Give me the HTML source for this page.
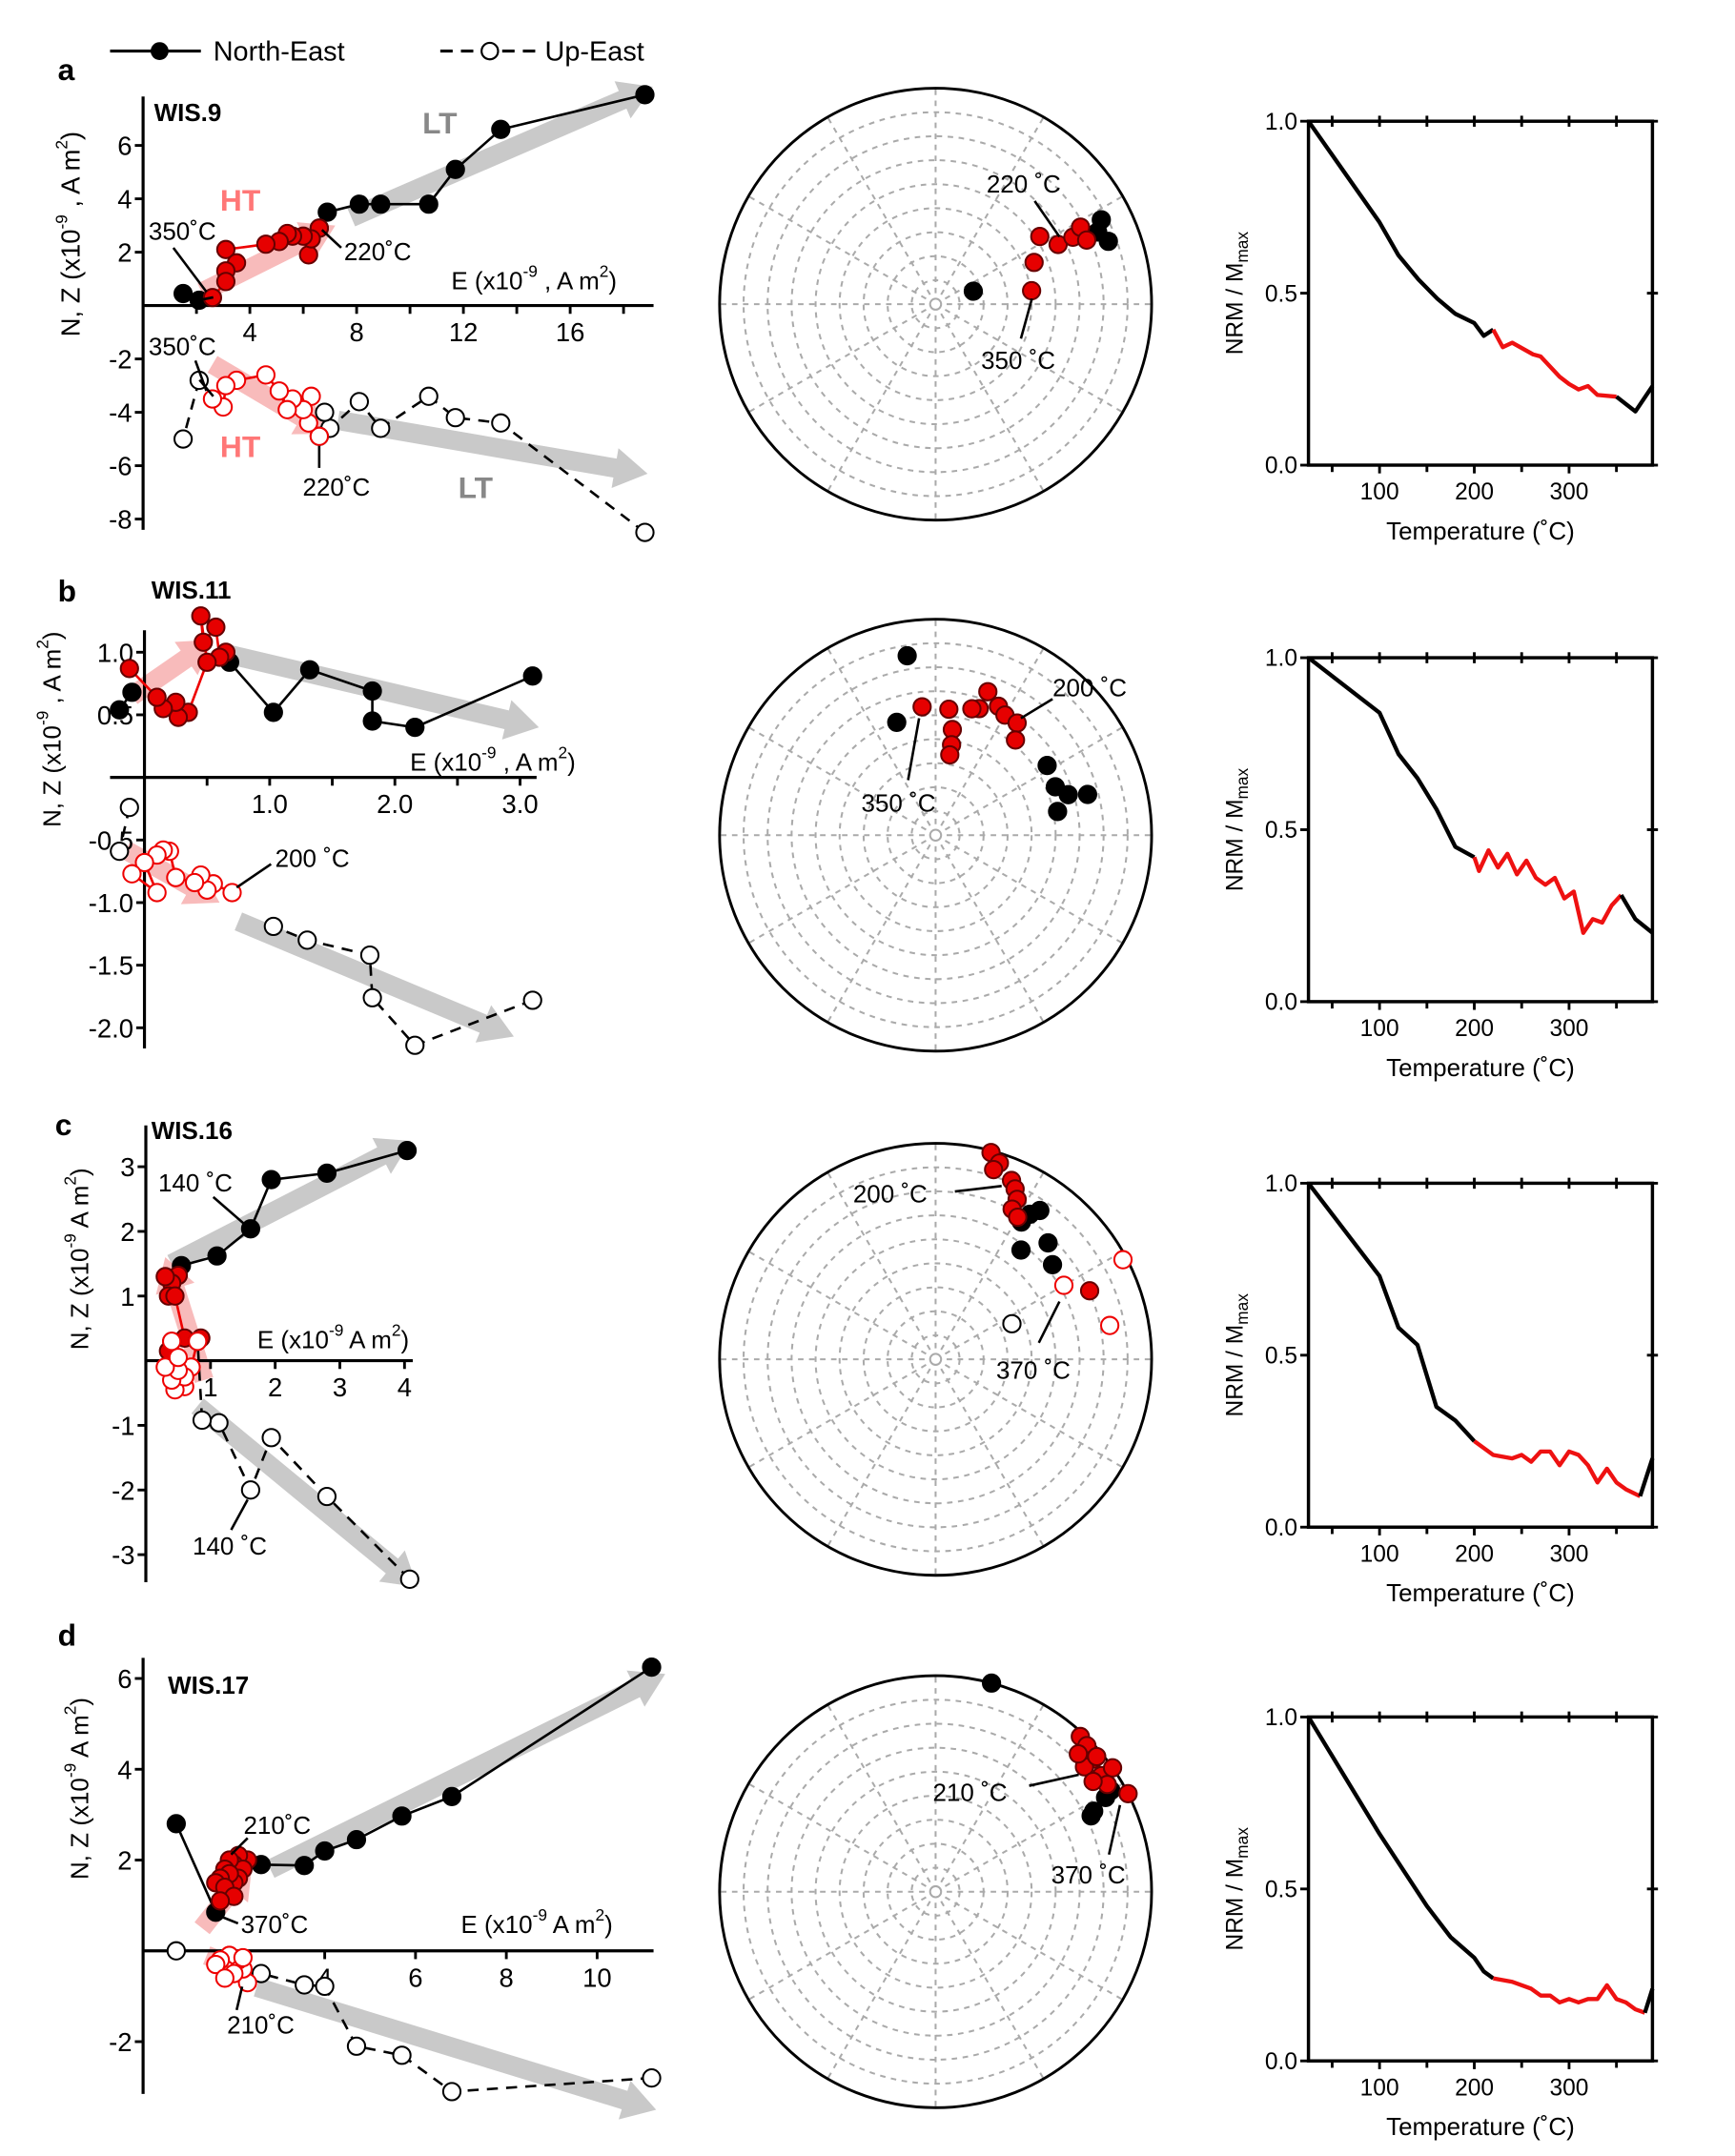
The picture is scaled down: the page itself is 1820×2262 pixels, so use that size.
<!DOCTYPE html>
<html><head><meta charset="utf-8"><style>
html,body{margin:0;padding:0;background:#fff}
svg{display:block}
text{font-family:"Liberation Sans",Arial,sans-serif}
</style></head><body>
<svg id="fig" xmlns="http://www.w3.org/2000/svg" width="1820" height="2262" viewBox="0 0 1261 1567">
<g>
<line x1="80" y1="37" x2="146" y2="37" stroke="#000" stroke-width="2.2"/>
<circle cx="116" cy="37" r="6.5" fill="#000"/>
<text x="155" y="44" font-size="20">North-East</text>
<line x1="320" y1="37" x2="392" y2="37" stroke="#000" stroke-width="2.2" stroke-dasharray="9,6"/>
<circle cx="356" cy="37" r="6" fill="#fff" stroke="#000" stroke-width="1.5"/>
<text x="396" y="44" font-size="20">Up-East</text>
</g>
<g id="root"></g>
</svg>
<script>
// ---------- Zijderveld data (E, N) and (E, Z) ----------
const aNE_E=[18.8,13.4,11.7,10.7,8.9,8.1,6.9];
const aNE_N=[7.9,6.6,5.1,3.8,3.8,3.8,3.5];
const aNE_E2=[1.5,2.1];
const aNE_N2=[0.45,0.2];
const aHTNE_E=[6.6,6.2,6.3,6.0,5.6,5.4,5.1,4.6,3.1,3.5,3.1,3.1,2.6];
const aHTNE_N=[2.9,1.9,2.5,2.6,2.6,2.7,2.4,2.3,2.1,1.6,1.3,0.9,0.3];
const aUE_E=[18.8,13.4,11.7,10.7,8.9,8.1,7.0,6.8];
const aUE_Z=[-8.5,-4.4,-4.2,-3.4,-4.6,-3.6,-4.6,-4.0];
const aUE_E2=[2.1,1.5];
const aUE_Z2=[-2.8,-5.0];
const aHTUE_E=[6.6,6.2,6.3,6.0,5.6,5.4,5.1,4.6,3.5,3.1,3.0,2.6];
const aHTUE_Z=[-4.9,-4.4,-3.4,-3.9,-3.5,-3.9,-3.2,-2.6,-2.8,-3.0,-3.8,-3.5];

const bNE_E=[3.1,2.16,1.82,1.82,1.32,1.03,0.68];
const bNE_N=[0.81,0.40,0.45,0.69,0.86,0.52,0.92];
const bNE_E2=[-0.1,-0.2];
const bNE_N2=[0.68,0.54];
const bHTNE_E=[0.65,0.6,0.57,0.47,0.45,0.5,0.35,0.27,0.25,0.15,0.1,-0.12];
const bHTNE_N=[1.0,0.96,1.2,1.08,1.29,0.92,0.52,0.48,0.6,0.55,0.64,0.87];
const bUE_E=[3.1,2.16,1.82,1.8,1.3,1.03];
const bUE_Z=[-1.78,-2.14,-1.76,-1.42,-1.3,-1.19];
const bUE_E2=[-0.12,-0.2];
const bUE_Z2=[-0.24,-0.59];
const bHTUE_E=[0.7,0.55,0.5,0.45,0.4,0.25,0.2,0.15,0.1,0.0,0.1,-0.1];
const bHTUE_Z=[-0.92,-0.85,-0.9,-0.78,-0.84,-0.8,-0.59,-0.58,-0.62,-0.68,-0.92,-0.77];

const cNE_E=[4.04,2.8,1.94,1.62,1.1,0.55];
const cNE_N=[3.25,2.9,2.8,2.04,1.62,1.47];
const cHTNE_E=[0.5,0.4,0.3,0.35,0.45,0.6,0.85,0.4,0.35];
const cHTNE_N=[1.32,1.2,1.3,1.0,1.0,0.35,0.35,0.3,0.15];
const cUE_E=[4.08,2.8,1.94,1.62,1.13,0.87];
const cUE_Z=[-3.38,-2.1,-1.19,-2.0,-0.96,-0.92];
const cHTUE_E=[0.8,0.7,0.6,0.45,0.6,0.4,0.5,0.3,0.5,0.4];
const cHTUE_Z=[0.3,-0.1,-0.4,-0.45,-0.25,-0.3,-0.15,-0.1,0.05,0.3];

const dNE_E=[11.2,6.8,5.7,4.7,4.0,3.55,2.6];
const dNE_N=[6.25,3.4,2.97,2.45,2.2,1.88,1.9];
const dNE_E2=[1.6,0.73];
const dNE_N2=[0.85,2.8];
const dHTNE_E=[2.3,2.1,2.0,2.2,1.9,2.1,1.8,2.0,1.9,1.7,1.6,1.8,2.0,1.7];
const dHTNE_N=[2.0,2.1,1.9,1.8,2.0,1.6,1.8,1.5,1.7,1.6,1.5,1.4,1.2,1.1];
const dUE_E=[11.2,6.8,5.7,4.7,4.0,3.55,2.6];
const dUE_Z=[-2.8,-3.1,-2.3,-2.1,-0.78,-0.75,-0.5];
const dUE_E2=[0.73];
const dUE_Z2=[0.0];
const dHTUE_E=[2.3,2.2,2.1,2.0,1.9,1.8,1.7,1.6,2.0,2.2,1.8];
const dHTUE_Z=[-0.7,-0.4,-0.2,-0.3,-0.1,-0.4,-0.2,-0.3,-0.5,-0.15,-0.6];

// ---------- Stereonet data (declination, inclination) ----------
const aBlkDec=[71,63,70,66];
const aBlkInc=[75,15,16,19];
const aRedDec=[82,67,57,64,64,62,67];
const aRedInc=[53,49,42,37,30,25,25];
const bBlkDec=[351,341,58,68,73,75,79];
const bBlkInc=[17,44,39,40,36,28,42];
const bRedDec=[354,6,9,10,10,19,20,26,30,36,40,16];
const bRedInc=[40,41,49,55,59,38,30,34,36,36,42,39];
const cRedDec=[15,18,17,23,25,27,27,30,66];
const cRedInc=[1,5,9,11,14,18,23,25,23];
const cBlkDec=[32,33,35,38,44,51];
const cBlkInc=[26,21,17,36,26,31];
const cOpenRedDec=[60,62,79];
const cOpenRedInc=[-32,-2,-19];
const cOpenBlkDec=[65];
const cOpenBlkInc=[-58];
const dBlkDec=[15,61,63,64,60];
const dBlkInc=[0,11,19,21,7];
const dRedDec=[43,46,50,50,55,58,55,55,46,63,50];
const dRedInc=[2,3,5,11,7,7,12,0,9,0,3];

// ---------- Thermal demagnetisation curves ----------
const aT=[25,100,120,141,161,180,200,210,220,230,240,262,270,290,300,310,320,330,350,370,388];
const aM=[1.0,0.706,0.61,0.54,0.484,0.44,0.413,0.376,0.394,0.343,0.356,0.322,0.316,0.257,0.236,0.22,0.23,0.204,0.199,0.156,0.23];
const aRed=[220,350];
const bT=[25,100,120,140,160,180,200,205,215,225,235,245,255,265,275,285,295,305,315,325,335,345,355,370,388];
const bM=[1.0,0.84,0.72,0.65,0.56,0.45,0.42,0.38,0.44,0.39,0.43,0.37,0.41,0.36,0.34,0.36,0.30,0.32,0.20,0.24,0.23,0.28,0.31,0.24,0.20];
const bRed=[200,355];
const cT=[25,100,120,140,160,180,200,220,240,250,260,270,280,290,300,310,320,330,340,350,360,375,388];
const cM=[1.0,0.73,0.58,0.53,0.35,0.31,0.25,0.21,0.20,0.21,0.19,0.22,0.22,0.18,0.22,0.21,0.18,0.13,0.17,0.13,0.11,0.09,0.20];
const cRed=[200,375];
const dT=[25,100,150,175,200,210,220,240,260,270,280,290,300,310,320,330,340,350,360,370,380,388];
const dM=[1.0,0.66,0.45,0.36,0.30,0.26,0.24,0.23,0.21,0.19,0.19,0.17,0.18,0.17,0.18,0.18,0.22,0.18,0.17,0.15,0.14,0.21];
const dRed=[220,380];

const NS="http://www.w3.org/2000/svg";
const root=document.getElementById('root');
function el(tag,attrs,parent){const e=document.createElementNS(NS,tag);for(const k in attrs)e.setAttribute(k,attrs[k]);(parent||root).appendChild(e);return e;}
function txt(x,y,s,size,parent,extra){const t=el('text',Object.assign({x:x,y:y,'font-size':size},extra||{}),parent);t.innerHTML=s;return t;}

function arrowPoly(g,x1,y1,x2,y2,color,w,name){
  const dx=x2-x1,dy=y2-y1,L=Math.hypot(dx,dy),ux=dx/L,uy=dy/L,px=-uy,py=ux;
  const hl=Math.min(24,L*0.4),hw=w*1.05;
  const bx=x2-ux*hl,by=y2-uy*hl;
  const pts=[[x1+px*w/2,y1+py*w/2],[bx+px*w/2,by+py*w/2],[bx+px*hw,by+py*hw],[x2,y2],[bx-px*hw,by-py*hw],[bx-px*w/2,by-py*w/2],[x1-px*w/2,y1-py*w/2]];
  const p=el('polygon',{points:pts.map(q=>q.join(',')).join(' '),fill:color},g);
  
  
}

function zij(cfg){
  const g=el('g',{});
  
  
  const X=v=>cfg.x0+v*cfg.s, Y=v=>cfg.y0-v*cfg.s;
  cfg.arrows.forEach(a=>arrowPoly(g,X(a[0]),Y(a[1]),X(a[2]),Y(a[3]),a[4],14,a[5]));
  const va=el('line',{x1:cfg.x0,y1:cfg.yTop,x2:cfg.x0,y2:cfg.yBot,stroke:'#000','stroke-width':2.2},g);
  
  
  const ha=el('line',{x1:cfg.xL,y1:cfg.y0,x2:cfg.xR,y2:cfg.y0,stroke:'#000','stroke-width':2.2},g);
  
  
  cfg.xTicks.forEach((t,i)=>{el('line',{x1:X(t),y1:cfg.y0,x2:X(t),y2:cfg.y0+6,stroke:'#000','stroke-width':2},g);});
  cfg.xLabels.forEach((t,i)=>{const tt=txt(X(t),cfg.y0+26,cfg.xLabelText[i],19,g,{'text-anchor':'middle'});});
  cfg.yTicks.forEach(t=>{el('line',{x1:cfg.x0-6,y1:Y(t),x2:cfg.x0,y2:Y(t),stroke:'#000','stroke-width':2},g);});
  cfg.yLabels.forEach((t,i)=>{const tt=txt(cfg.x0-8,Y(t)+7,cfg.yLabelText[i],19,g,{'text-anchor':'end'});});
  function line(E,V,col,dash){const pts=E.map((e,i)=>X(e)+','+Y(V[i])).join(' ');const p=el('polyline',{points:pts,fill:'none',stroke:col,'stroke-width':1.8},g);if(dash)p.setAttribute('stroke-dasharray','8,6');return p;}
  function pts(E,V,fill,stroke,name){E.forEach((e,i)=>{const c=el('circle',{cx:X(e),cy:Y(V[i]),r:6.3,fill:fill,stroke:stroke,'stroke-width':1.4},g);});}
  cfg.series.forEach(s=>{ if(s.link){line(s.E,s.V,s.lc,s.dash);} });
  cfg.series.forEach(s=>pts(s.E,s.V,s.fill,s.stroke,s.name));
  return {g,X,Y};
}

function stereo(cx,cy,R,groups,name){
  const g=el('g',{});
  
  
  for(let k=1;k<=8;k++)el('circle',{cx:cx,cy:cy,r:R*k/9,fill:'none',stroke:'#aaa','stroke-width':1.4,'stroke-dasharray':'4,4'},g);
  el('circle',{cx:cx,cy:cy,r:4,fill:'none',stroke:'#aaa','stroke-width':1.4},g);
  for(let a=0;a<360;a+=30){const r=a*Math.PI/180;el('line',{x1:cx+8*Math.sin(r),y1:cy-8*Math.cos(r),x2:cx+R*Math.sin(r),y2:cy-R*Math.cos(r),stroke:'#aaa','stroke-width':1.4,'stroke-dasharray':'4,4'},g);}
  const oc=el('circle',{cx:cx,cy:cy,r:R,fill:'none',stroke:'#000','stroke-width':2},g);
  
  
  groups.forEach(gr=>{
    gr.dec.forEach((d,i)=>{
      const inc=gr.inc[i];
      const r=R*Math.SQRT2*Math.sin((90-Math.abs(inc))/2*Math.PI/180);
      const c=el('circle',{cx:cx+r*Math.sin(d*Math.PI/180),cy:cy-r*Math.cos(d*Math.PI/180),r:6.3,fill:gr.fill,stroke:gr.stroke,'stroke-width':1.4},g);
      
      
    });
  });
  return g;
}

function thermal(T,M,red,top,name){
  const g=el('g',{});
  
  
  const L=951,Rr=1201,B=top+250;
  const X=t=>L+(t-25)*(Rr-L)/(388-25), Y=m=>B-m*250;
  el('rect',{x:L,y:top,width:Rr-L,height:250,fill:'none',stroke:'#000','stroke-width':2.4},g);
  [50,100,150,200,250,300,350].forEach(t=>{const big=t%100==0;el('line',{x1:X(t),y1:B,x2:X(t),y2:B+(big?6:5),stroke:'#000','stroke-width':2},g);el('line',{x1:X(t),y1:top-4,x2:X(t),y2:top+4,stroke:'#000','stroke-width':2},g);});
  [0,0.5,1].forEach(m=>{el('line',{x1:L-6,y1:Y(m),x2:L,y2:Y(m),stroke:'#000','stroke-width':2},g);el('line',{x1:Rr-4,y1:Y(m),x2:Rr+4,y2:Y(m),stroke:'#000','stroke-width':2},g);});
  ['0.0','0.5','1.0'].forEach((s,i)=>{const t=txt(L-8,Y(i*0.5)+6,s,17,g,{'text-anchor':'end'});});
  [100,200,300].forEach(t=>{const tt=txt(X(t),B+25,String(t),17,g,{'text-anchor':'middle'});});
  const xl=txt(1076,B+54,'Temperature (˚C)',18,g,{'text-anchor':'middle'});
  
  const yl=txt(0,0,'NRM / M<tspan font-size="12" dy="4">max</tspan>',17,g,{'text-anchor':'middle',transform:'translate(903,'+(top+125)+') rotate(-90)'});
  
  const seg=(filter,col,nm)=>{const idx=T.map((t,i)=>i).filter(i=>filter(T[i]));const p=el('polyline',{points:idx.map(i=>X(T[i])+','+Y(M[i])).join(' '),fill:'none',stroke:col,'stroke-width':3,'stroke-linejoin':'round'},g);};
  seg(t=>t<=red[0],'#000','curve-low');
  seg(t=>t>=red[0]&&t<=red[1],'#ee1111','curve-red');
  seg(t=>t>=red[1],'#000','curve-high');
}

function label(x,y,s,size,name,extra){const t=txt(x,y,s,size,root,extra);return t;}
function leader(x1,y1,x2,y2){const l=el('line',{x1:x1,y1:y1,x2:x2,y2:y2,stroke:'#000','stroke-width':1.8});}
const GREY='#c9c9c9',PINK='rgba(245,150,150,0.65)';
const RF='#e60000';
function S(E,V,fill,stroke,lc,dash,name){return {E:E,V:V,fill:fill,stroke:stroke,lc:lc,dash:dash,link:true,name:name};}

// ---------- Panel a ----------
zij({name:'zijderveld-a',x0:104,y0:222,s:19.4,yTop:70,yBot:385,xL:104,xR:475,
  xTicks:[2,4,6,8,10,12,14,16,18],xLabels:[4,8,12,16],xLabelText:['4','8','12','16'],
  yTicks:[6,4,2,-2,-4,-6,-8],yLabels:[6,4,2,-2,-4,-6,-8],yLabelText:['6','4','2','-2','-4','-6','-8'],
  arrows:[[7.8,3.3,19.1,8.2,GREY,'lt-arrow-ne'],[2.2,0.5,7.2,3.0,PINK,'ht-arrow-ne'],[7.3,-4.3,18.9,-6.3,GREY,'lt-arrow-ue'],[2.6,-2.2,7.0,-4.8,PINK,'ht-arrow-ue']],
  series:[S(aNE_E.concat([6.6]),aNE_N.concat([2.9]),'#000','#000','#000',false,'ne-point'),S(aNE_E2,aNE_N2,'#000','#000','#000',false,'ne-point'),
    S(aHTNE_E,aHTNE_N,RF,'#600','#e00',false,'ne-ht-point'),
    S(aUE_E.concat([6.6]),aUE_Z.concat([-4.9]),'#fff','#000','#000',true,'ue-point'),S(aUE_E2,aUE_Z2,'#fff','#000','#000',true,'ue-point'),
    S(aHTUE_E,aHTUE_Z,'#fff','#e00','#e00',false,'ue-ht-point')]});
leader(145,218,155,216);leader(145,276,155,288);
label(42,58,'a',22,'panel-label-a',{'font-weight':'bold'});
label(112,88,'WIS.9',18,'sample-title-a',{'font-weight':'bold'});
label(307,97,'LT',22,'lt-label',{'font-weight':'bold',style:'fill:#888'});
label(160,153,'HT',22,'ht-label',{'font-weight':'bold',style:'fill:#f77'});
label(160,332,'HT',22,'ht-label',{'font-weight':'bold',style:'fill:#f77'});
label(333,362,'LT',22,'lt-label',{'font-weight':'bold',style:'fill:#888'});
label(108,174,'350˚C',18,'temp-label');leader(126,180,150,212);
label(250,189,'220˚C',18,'temp-label');leader(248,180,234,167);
label(108,258,'350˚C',18,'temp-label');leader(142,262,150,284);
label(220,360,'220˚C',18,'temp-label');leader(232,340,232,324);
label(328,210,'E (x10<tspan font-size="12" dy="-9">-9</tspan><tspan dy="9"> , A m</tspan><tspan font-size="12" dy="-9">2</tspan><tspan dy="9">)</tspan>',18,'x-axis-title');
label(0,0,'N, Z (x10<tspan font-size="12" dy="-9">-9</tspan><tspan dy="9"> , A m</tspan><tspan font-size="12" dy="-9">2</tspan><tspan dy="9">)</tspan>',19,'y-axis-title',{'text-anchor':'middle',transform:'translate(58,170) rotate(-90)'});

// ---------- Panel b ----------
zij({name:'zijderveld-b',x0:105,y0:565,s:91,yTop:458,yBot:762,xL:80,xR:390,
  xTicks:[0.5,1,1.5,2,2.5,3],xLabels:[1,2,3],xLabelText:['1.0','2.0','3.0'],
  yTicks:[1,0.5,-0.5,-1,-1.5,-2],yLabels:[1,0.5,-0.5,-1,-1.5,-2],yLabelText:['1.0','0.5','-0.5','-1.0','-1.5','-2.0'],
  arrows:[[0.6,1.0,3.15,0.4,GREY,'lt-arrow-ne'],[-0.1,0.65,0.55,1.1,PINK,'ht-arrow-ne'],[0.75,-1.15,2.95,-2.07,GREY,'lt-arrow-ue'],[-0.15,-0.58,0.6,-1.0,PINK,'ht-arrow-ue']],
  series:[S(bNE_E,bNE_N,'#000','#000','#000',false,'ne-point'),S(bNE_E2,bNE_N2,'#000','#000','#000',false,'ne-point'),
    S(bHTNE_E,bHTNE_N,RF,'#600','#e00',false,'ne-ht-point'),
    S(bUE_E,bUE_Z,'#fff','#000','#000',true,'ue-point'),S(bUE_E2,bUE_Z2,'#fff','#000','#000',true,'ue-point'),
    S(bHTUE_E,bHTUE_Z,'#fff','#e00','#e00',false,'ue-ht-point')]});
label(42,437,'b',22,'panel-label-b',{'font-weight':'bold'});
label(110,435,'WIS.11',18,'sample-title-b',{'font-weight':'bold'});
label(200,630,'200 ˚C',18,'temp-label');leader(197,628,172,645);
label(298,560,'E (x10<tspan font-size="12" dy="-9">-9</tspan><tspan dy="9"> , A m</tspan><tspan font-size="12" dy="-9">2</tspan><tspan dy="9">)</tspan>',18,'x-axis-title');
label(0,0,'N, Z (x10<tspan font-size="12" dy="-9">-9</tspan><tspan dy="9"> , A m</tspan><tspan font-size="12" dy="-9">2</tspan><tspan dy="9">)</tspan>',18,'y-axis-title',{'text-anchor':'middle',transform:'translate(44,530) rotate(-90)'});

// ---------- Panel c ----------
zij({name:'zijderveld-c',x0:106,y0:989,s:47,yTop:818,yBot:1150,xL:106,xR:300,
  xTicks:[1,2,3,4],xLabels:[1,2,3,4],xLabelText:['1','2','3','4'],
  yTicks:[3,2,1,-1,-2,-3],yLabels:[3,2,1,-1,-2,-3],yLabelText:['3','2','1','-1','-2','-3'],
  arrows:[[0.4,1.5,4.1,3.4,GREY,'lt-arrow-ne'],[0.9,-0.3,0.3,1.6,PINK,'ht-arrow-ne'],[0.8,-0.7,4.2,-3.5,GREY,'lt-arrow-ue']],
  series:[S(cNE_E.concat([0.5]),cNE_N.concat([1.32]),'#000','#000','#000',false,'ne-point'),
    S(cHTNE_E,cHTNE_N,RF,'#600','#e00',false,'ne-ht-point'),
    S(cUE_E.concat([0.8]),cUE_Z.concat([0.3]),'#fff','#000','#000',true,'ue-point'),
    S(cHTUE_E,cHTUE_Z,'#fff','#e00','#e00',false,'ue-ht-point')]});
label(40,825,'c',22,'panel-label-c',{'font-weight':'bold'});
label(110,828,'WIS.16',18,'sample-title-c',{'font-weight':'bold'});
label(115,866,'140 ˚C',18,'temp-label');leader(155,870,178,890);
label(140,1130,'140 ˚C',18,'temp-label');leader(168,1112,180,1090);
label(187,980,'E (x10<tspan font-size="12" dy="-9">-9</tspan><tspan dy="9">  A m</tspan><tspan font-size="12" dy="-9">2</tspan><tspan dy="9">)</tspan>',18,'x-axis-title');
label(0,0,'N, Z (x10<tspan font-size="12" dy="-9">-9</tspan><tspan dy="9">  A m</tspan><tspan font-size="12" dy="-9">2</tspan><tspan dy="9">)</tspan>',18,'y-axis-title',{'text-anchor':'middle',transform:'translate(64,915) rotate(-90)'});

// ---------- Panel d ----------
zij({name:'zijderveld-d',x0:104,y0:1418,s:33,yTop:1205,yBot:1522,xL:104,xR:475,
  xTicks:[2,4,6,8,10],xLabels:[4,6,8,10],xLabelText:['4','6','8','10'],
  yTicks:[6,4,2,-2],yLabels:[6,4,2,-2],yLabelText:['6','4','2','-2'],
  arrows:[[2.8,1.8,11.5,6.1,GREY,'lt-arrow-ne'],[1.3,0.5,2.4,1.9,PINK,'ht-arrow-ne'],[2.5,-0.8,11.3,-3.5,GREY,'lt-arrow-ue'],[1.4,-0.1,2.4,-0.5,PINK,'ht-arrow-ue']],
  series:[S(dNE_E,dNE_N,'#000','#000','#000',false,'ne-point'),S(dNE_E2,dNE_N2,'#000','#000','#000',false,'ne-point'),
    S(dHTNE_E,dHTNE_N,RF,'#600','#e00',false,'ne-ht-point'),
    S(dUE_E,dUE_Z,'#fff','#000','#000',true,'ue-point'),S(dUE_E2,dUE_Z2,'#fff','#000','#000',true,'ue-point'),
    S(dHTUE_E,dHTUE_Z,'#fff','#e00','#e00',false,'ue-ht-point')]});
label(42,1196,'d',22,'panel-label-d',{'font-weight':'bold'});
label(122,1231,'WIS.17',18,'sample-title-d',{'font-weight':'bold'});
label(177,1333,'210˚C',18,'temp-label');leader(180,1336,168,1348);
label(175,1405,'370˚C',18,'temp-label');leader(173,1398,158,1392);
label(165,1478,'210˚C',18,'temp-label');leader(172,1461,176,1444);
label(335,1405,'E (x10<tspan font-size="12" dy="-9">-9</tspan><tspan dy="9">  A m</tspan><tspan font-size="12" dy="-9">2</tspan><tspan dy="9">)</tspan>',18,'x-axis-title');
label(0,0,'N, Z (x10<tspan font-size="12" dy="-9">-9</tspan><tspan dy="9">  A m</tspan><tspan font-size="12" dy="-9">2</tspan><tspan dy="9">)</tspan>',18,'y-axis-title',{'text-anchor':'middle',transform:'translate(64,1300) rotate(-90)'});

// ---------- Stereonets ----------
stereo(680,221,157,[{dec:aBlkDec,inc:aBlkInc,fill:'#000',stroke:'#000',name:'direction-black'},{dec:aRedDec,inc:aRedInc,fill:RF,stroke:'#600',name:'direction-red'}],'stereonet-a');
label(717,140,'220 ˚C',18,'temp-label');leader(752,146,770,172);
label(713,268,'350 ˚C',18,'temp-label');leader(742,246,750,217);
stereo(680,607,157,[{dec:bBlkDec,inc:bBlkInc,fill:'#000',stroke:'#000',name:'direction-black'},{dec:bRedDec,inc:bRedInc,fill:RF,stroke:'#600',name:'direction-red'}],'stereonet-b');
label(765,506,'200 ˚C',18,'temp-label');leader(765,508,742,522);
label(626,590,'350 ˚C',18,'temp-label');leader(660,567,668,522);
stereo(680,988,157,[{dec:cBlkDec,inc:cBlkInc,fill:'#000',stroke:'#000',name:'direction-black'},{dec:cRedDec,inc:cRedInc,fill:RF,stroke:'#600',name:'direction-red'},{dec:cOpenRedDec,inc:cOpenRedInc,fill:'#fff',stroke:'#e00',name:'direction-open-red'},{dec:cOpenBlkDec,inc:cOpenBlkInc,fill:'#fff',stroke:'#000',name:'direction-open-black'}],'stereonet-c');
label(620,874,'200 ˚C',18,'temp-label');leader(694,866,728,862);
label(724,1002,'370 ˚C',18,'temp-label');leader(755,976,770,946);
stereo(680,1375,157,[{dec:dBlkDec,inc:dBlkInc,fill:'#000',stroke:'#000',name:'direction-black'},{dec:dRedDec,inc:dRedInc,fill:RF,stroke:'#600',name:'direction-red'}],'stereonet-d');
label(678,1309,'210 ˚C',18,'temp-label');leader(748,1298,784,1290);
label(764,1369,'370 ˚C',18,'temp-label');leader(806,1348,814,1312);

// ---------- Thermal curves ----------
thermal(aT,aM,aRed,88,'thermal-a');
thermal(bT,bM,bRed,478,'thermal-b');
thermal(cT,cM,cRed,860,'thermal-c');
thermal(dT,dM,dRed,1248,'thermal-d');
</script>
</body></html>
